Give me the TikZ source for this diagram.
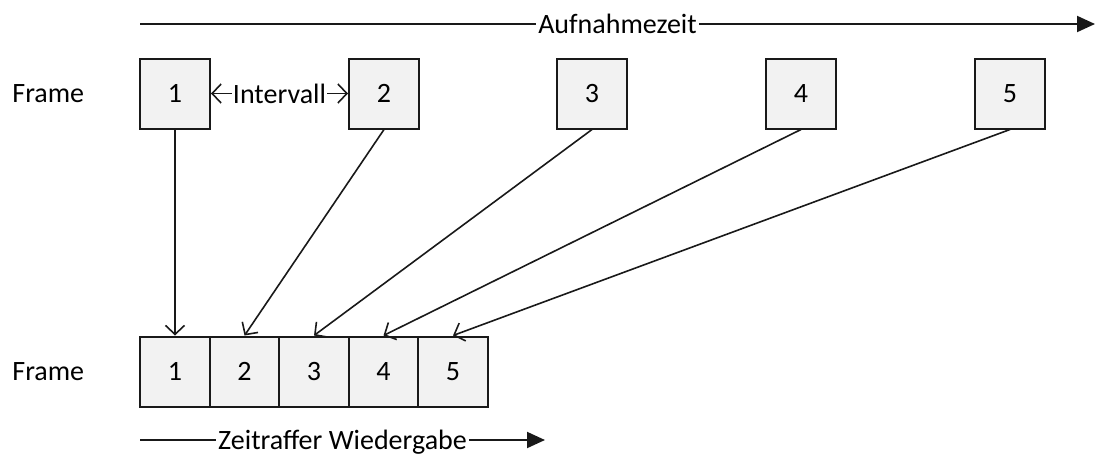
\documentclass[tikz,border=0pt]{standalone}
\usepackage{fontspec}
\setmainfont{Carlito}
\usetikzlibrary{arrows.meta}
\begin{document}
\begin{tikzpicture}[x=0.5pt,y=-0.5pt,
  txt/.style={font=\fontsize{14}{16}\selectfont},
  cell/.style={txt, draw=black!90, line width=1pt, fill=black!5,
    minimum width=35pt, minimum height=35pt, inner sep=0pt},
  caption/.style={txt, inner sep=0pt, text depth=0pt},
  gap/.style={txt, fill=white, inner xsep=1pt, inner ysep=2pt, text depth=0pt},
  axis/.style={line width=1pt, draw=black!90, -{Triangle[length=9pt,width=8pt]}},
  barb/.style={Straight Barb[length=4.5pt,width=9.5pt]},
  link/.style={line width=0.8pt, draw=black!90, -{Straight Barb[length=4.5pt,width=9.5pt]}}]
\useasboundingbox (0,0) rectangle (1095,455);

% recording time axis
\coordinate (rs) at (140,24);
\coordinate (re) at (1095,24);
\draw[axis] (rs) -- (re) node[gap, pos=0.5] {Aufnahmezeit};

% captured frames
\node[caption, anchor=west] (flabA) at (12,94) {Frame};
\node[cell] (a1) at (175,93.5) {1};
\node[cell] (a2) at (384,93.5) {2};
\node[cell] (a3) at (592,93.5) {3};
\node[cell] (a4) at (801,93.5) {4};
\node[cell] (a5) at (1010,93.5) {5};

% interval between two captures
\draw[line width=0.8pt, draw=black!90,
  {Straight Barb[length=4.5pt,width=9.5pt]}-{Straight Barb[length=4.5pt,width=9.5pt]}]
  (a1.east) -- (a2.west) node[gap, pos=0.5, inner xsep=0.5pt] {Intervall};

% playback frames, packed side by side
\node[caption, anchor=west] (flabB) at (12,372) {Frame};
\node[cell] (b1) at (175,371.5) {1};
\node[cell] (b2) at (244.5,371.5) {2};
\node[cell] (b3) at (314,371.5) {3};
\node[cell] (b4) at (383.5,371.5) {4};
\node[cell] (b5) at (453,371.5) {5};

% mapping of captured to played frames
\foreach \i in {1,...,5} {
  \draw[link] (a\i.south) -- (b\i.north);
}

% playback time axis
\coordinate (ps) at (140,440);
\coordinate (pe) at (545,440);
\draw[axis] (ps) -- (pe) node[gap, pos=0.5] {Zeitraffer Wiedergabe};
\end{tikzpicture}
\end{document}
